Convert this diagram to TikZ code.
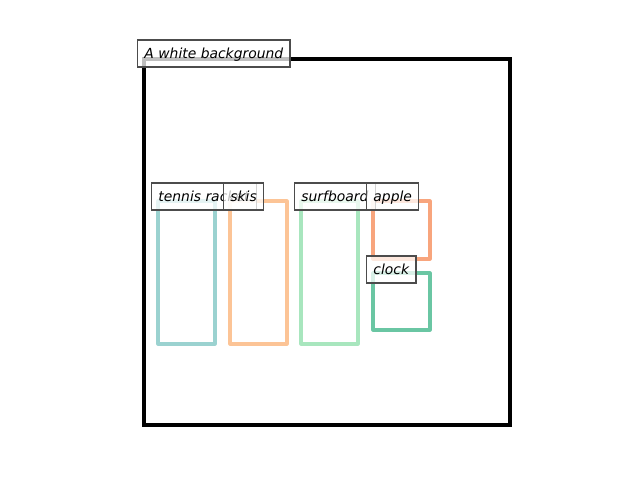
\documentclass[tikz,border=0pt]{standalone}
\usepackage{fontspec}
\setmainfont{DejaVu Sans}
\definecolor{cteal}{HTML}{9BD2D0}
\definecolor{corange}{HTML}{FCC496}
\definecolor{cgreenl}{HTML}{A8E6BE}
\definecolor{capple}{HTML}{F8A57D}
\definecolor{cclock}{HTML}{6AC6A3}
\begin{document}
\begin{tikzpicture}[x=0.72pt,y=-0.72pt,
  objbox/.style={line width=2.2pt,line join=round},
  lbl/.style={anchor=south west,draw=black!70,line width=0.9pt,fill=white,fill opacity=0.75,draw opacity=1,text opacity=1,
    font=\itshape\fontsize{10}{12}\selectfont,inner xsep=4.9pt,inner ysep=4.7pt,text height=8.8pt,text depth=1.2pt}]
\useasboundingbox (0,0) rectangle (640,480);
\draw[line width=2.2pt,line join=miter] (144,59) rectangle (510,425);
\draw[objbox,cteal] (158,201) rectangle (215,344);
\draw[objbox,corange] (230,201) rectangle (287,344);
\draw[objbox,cgreenl] (301,201) rectangle (358,344);
\draw[objbox,capple] (373,201) rectangle (430,259);
\draw[objbox,cclock] (373,273) rectangle (430,330);
\node[lbl] (bg) at (137,67.5) {A white background};
\node[lbl] (tr) at (151,210.5) {tennis racket};
\node[lbl] (sk) at (223,210.5) {skis};
\node[lbl] (sb) at (294,210.5) {surfboard};
\node[lbl] (ap) at (366,210.5) {apple};
\node[lbl] (cl) at (366,283.5) {clock};
\end{tikzpicture}
\end{document}
